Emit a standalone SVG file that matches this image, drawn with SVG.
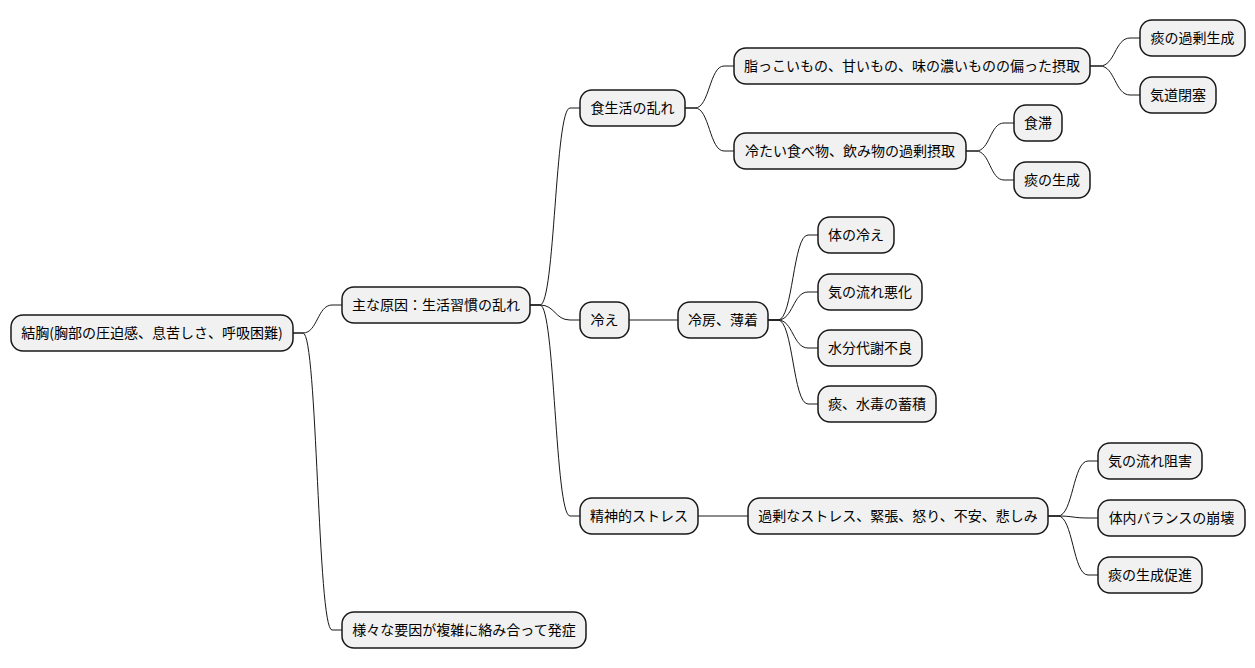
<svg xmlns="http://www.w3.org/2000/svg" width="1255" height="668" viewBox="0 0 1255 668">
<style>
.n rect{fill:#F1F1F1;stroke:#181818;stroke-width:1.5}
.n text{font-family:"Noto Sans CJK JP","Noto Sans",sans-serif;font-size:14px;fill:#000;text-anchor:middle}
.c path{fill:none;stroke:#181818;stroke-width:1}
</style>
<rect width="1255" height="668" fill="#FFFFFF"/>
<g class="c" id="connectors">
<path d="M293,333 H303 C317.5,333 317.5,305 332,305 H342"/>
<path d="M293,333 H303 C317.5,333 317.5,630 332,630 H342"/>
<path d="M530,305 H540 C555,305 555,108 570,108 H580"/>
<path d="M530,305 H540 C555,305 555,320 570,320 H580"/>
<path d="M530,305 H540 C555,305 555,516 570,516 H580"/>
<path d="M685,108 H695 C709.5,108 709.5,66 724,66 H734"/>
<path d="M685,108 H695 C709.5,108 709.5,151 724,151 H734"/>
<path d="M1090,66 H1100 C1115,66 1115,38 1130,38 H1140"/>
<path d="M1090,66 H1100 C1115,66 1115,95 1130,95 H1140"/>
<path d="M966,151 H976 C990,151 990,123 1004,123 H1014"/>
<path d="M966,151 H976 C990,151 990,180 1004,180 H1014"/>
<path d="M629,320 H678"/>
<path d="M768,320 H778 C793,320 793,235 808,235 H818"/>
<path d="M768,320 H778 C793,320 793,292 808,292 H818"/>
<path d="M768,320 H778 C793,320 793,348 808,348 H818"/>
<path d="M768,320 H778 C793,320 793,404 808,404 H818"/>
<path d="M698,516 H748"/>
<path d="M1048,516 H1058 C1073,516 1073,461 1088,461 H1098"/>
<path d="M1048,516 H1058 C1073,516 1073,518 1088,518 H1098"/>
<path d="M1048,516 H1058 C1073,516 1073,575 1088,575 H1098"/>
</g>
<g class="n" id="root"><rect x="11" y="315" width="282" height="36" rx="12"/><text x="152" y="338">結胸(胸部の圧迫感、息苦しさ、呼吸困難)</text></g>
<g class="n" id="main"><rect x="342" y="287" width="188" height="36" rx="12"/><text x="436" y="310">主な原因：生活習慣の乱れ</text></g>
<g class="n" id="diet"><rect x="580" y="90" width="105" height="36" rx="12"/><text x="632.5" y="113">食生活の乱れ</text></g>
<g class="n" id="cold"><rect x="580" y="302" width="49" height="36" rx="12"/><text x="604.5" y="325">冷え</text></g>
<g class="n" id="stress"><rect x="580" y="498" width="118" height="36" rx="12"/><text x="639" y="521">精神的ストレス</text></g>
<g class="n" id="various"><rect x="342" y="612" width="244" height="36" rx="12"/><text x="464" y="635">様々な要因が複雑に絡み合って発症</text></g>
<g class="n" id="fatty"><rect x="734" y="48" width="356" height="36" rx="12"/><text x="912" y="71">脂っこいもの、甘いもの、味の濃いものの偏った摂取</text></g>
<g class="n" id="coldfood"><rect x="734" y="133" width="232" height="36" rx="12"/><text x="850" y="156">冷たい食べ物、飲み物の過剰摂取</text></g>
<g class="n" id="phlegm1"><rect x="1140" y="20" width="105" height="36" rx="12"/><text x="1192.5" y="43">痰の過剰生成</text></g>
<g class="n" id="airway"><rect x="1140" y="77" width="76" height="36" rx="12"/><text x="1178" y="100">気道閉塞</text></g>
<g class="n" id="stagnation"><rect x="1014" y="105" width="48" height="36" rx="12"/><text x="1038" y="128">食滞</text></g>
<g class="n" id="phlegm2"><rect x="1014" y="162" width="76" height="36" rx="12"/><text x="1052" y="185">痰の生成</text></g>
<g class="n" id="aircon"><rect x="678" y="302" width="90" height="36" rx="12"/><text x="723" y="325">冷房、薄着</text></g>
<g class="n" id="bodycold"><rect x="818" y="217" width="76" height="36" rx="12"/><text x="856" y="240">体の冷え</text></g>
<g class="n" id="qiworse"><rect x="818" y="274" width="104" height="36" rx="12"/><text x="870" y="297">気の流れ悪化</text></g>
<g class="n" id="water"><rect x="818" y="330" width="104" height="36" rx="12"/><text x="870" y="353">水分代謝不良</text></g>
<g class="n" id="accum"><rect x="818" y="386" width="118" height="36" rx="12"/><text x="877" y="409">痰、水毒の蓄積</text></g>
<g class="n" id="excess"><rect x="748" y="498" width="300" height="36" rx="12"/><text x="898" y="521">過剰なストレス、緊張、怒り、不安、悲しみ</text></g>
<g class="n" id="qiblock"><rect x="1098" y="443" width="104" height="36" rx="12"/><text x="1150" y="466">気の流れ阻害</text></g>
<g class="n" id="balance"><rect x="1098" y="500" width="147" height="36" rx="12"/><text x="1171.5" y="523">体内バランスの崩壊</text></g>
<g class="n" id="phlegm3"><rect x="1098" y="557" width="104" height="36" rx="12"/><text x="1150" y="580">痰の生成促進</text></g>
</svg>
